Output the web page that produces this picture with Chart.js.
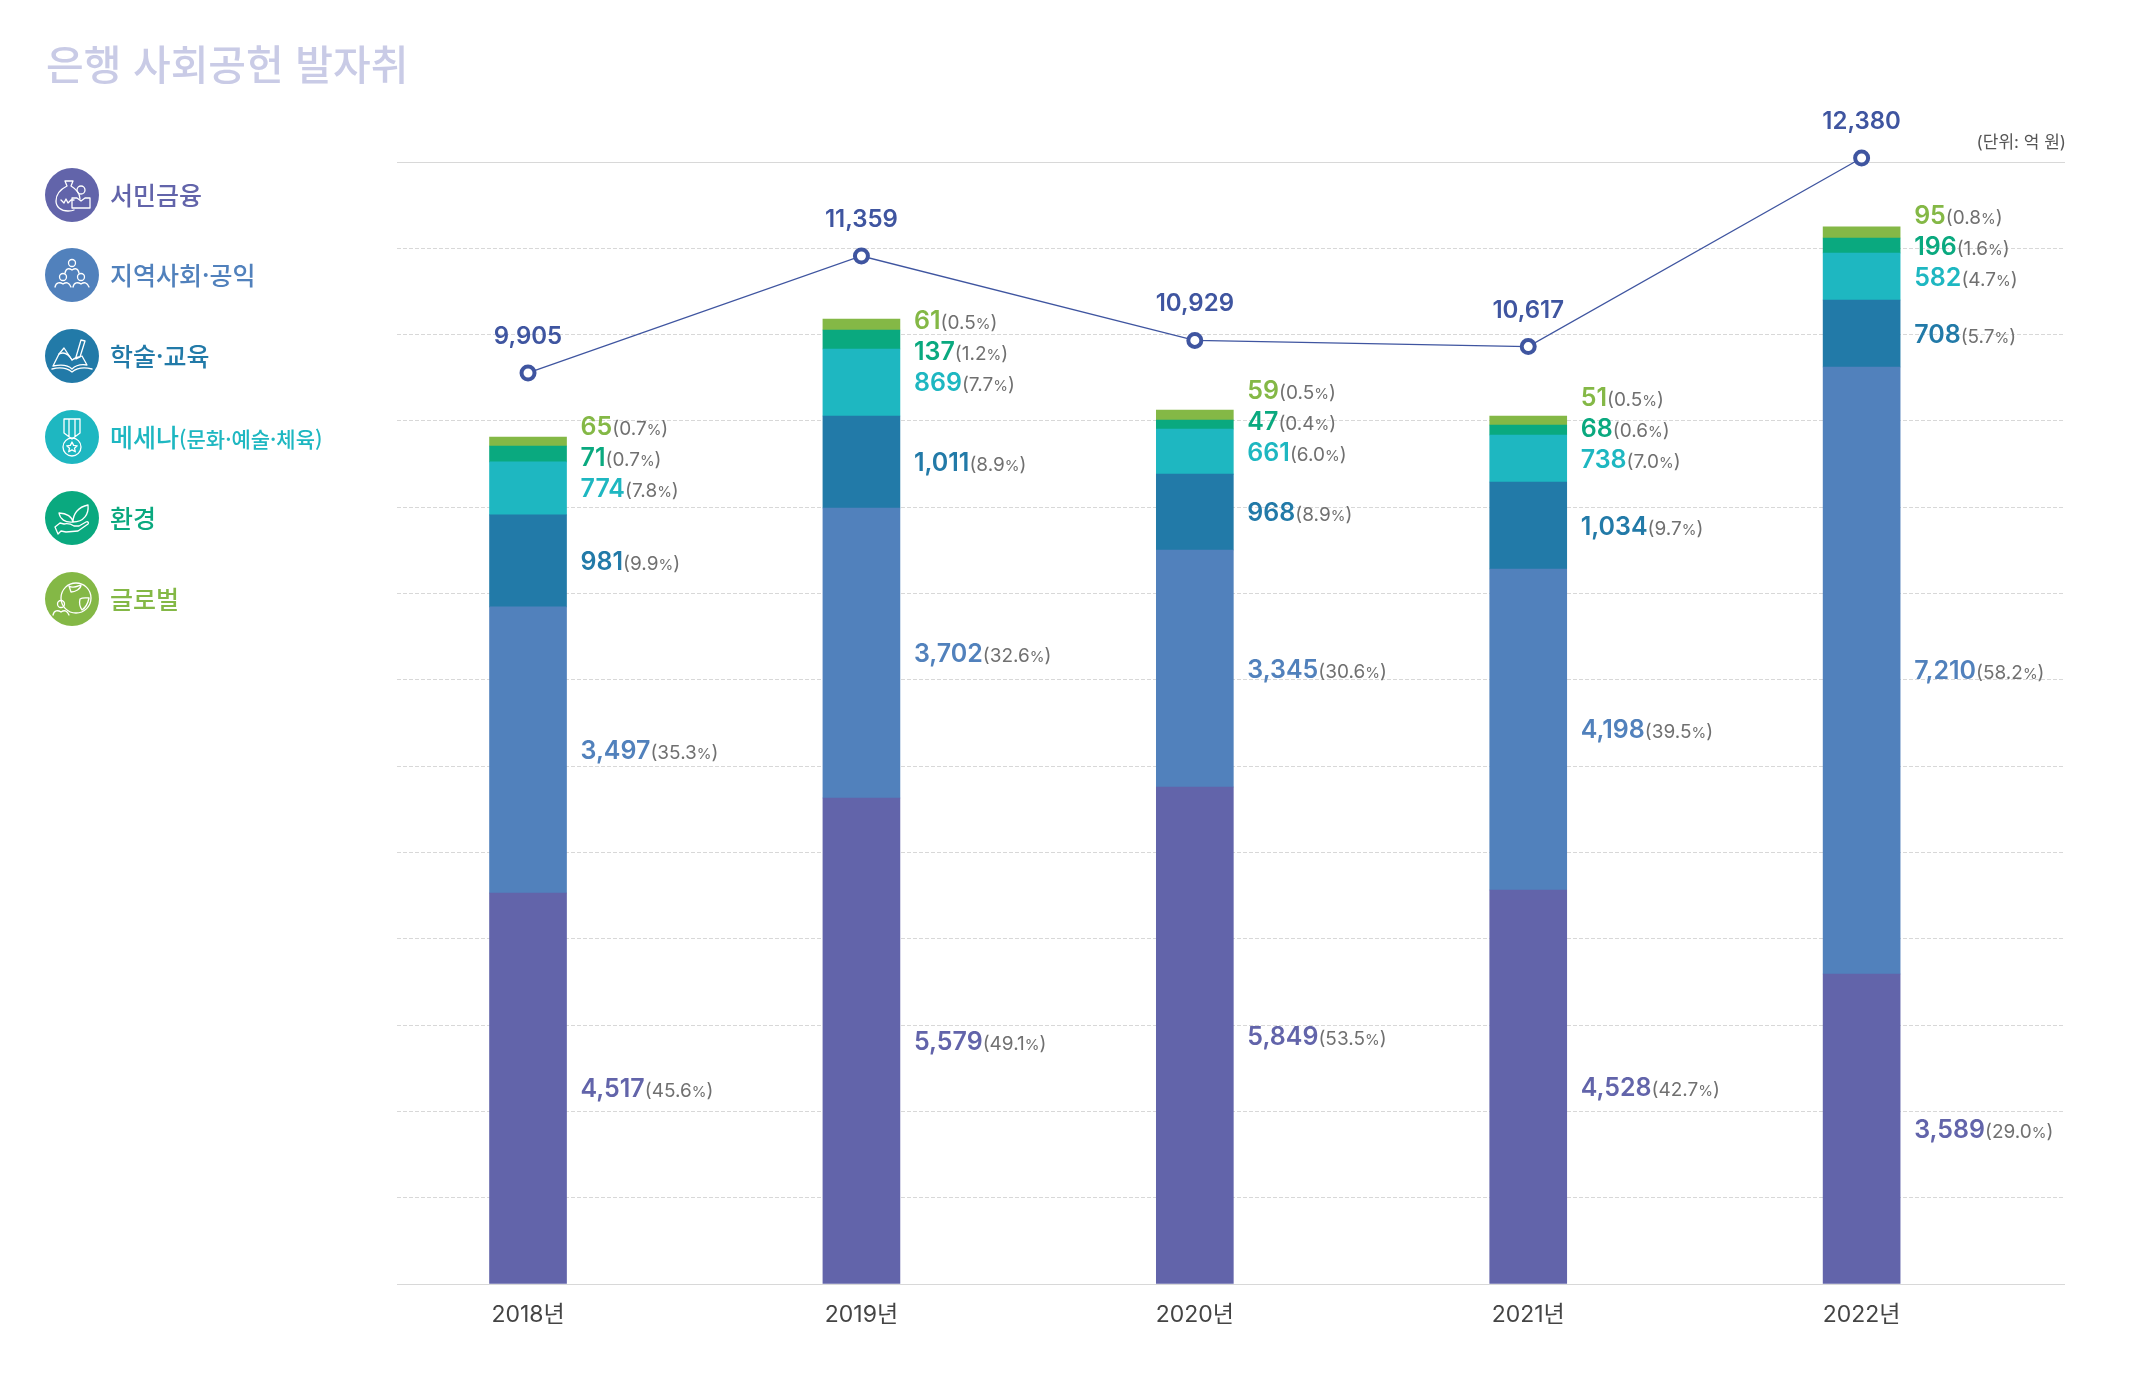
<!DOCTYPE html>
<html lang="ko">
<head>
<meta charset="utf-8">
<title>은행 사회공헌 발자취</title>
<script src="https://cdn.jsdelivr.net/npm/chart.js@4"></script>
<style>
  html, body { margin: 0; background: #fff; }
  body { width: 2146px; height: 1382px; position: relative; overflow: hidden;
         font-family: Inter, "Noto Sans CJK KR", sans-serif; }
  canvas { position: absolute; left: 0; top: 0; }
  #title { position: absolute; left: 46px; top: 34px; font-size: 41px; font-weight: 500; line-height: 56px;
           color: #c9cbe6; white-space: nowrap; font-family: "Noto Sans CJK KR", sans-serif; }
  #unit { position: absolute; right: 80px; top: 130px; font-size: 17px; line-height: 24px; color: #555; white-space: nowrap; }
  .item { position: absolute; left: 45px; height: 54px; display: flex; align-items: center; white-space: nowrap;
          font-size: 25px; font-weight: 500; font-family: "Noto Sans CJK KR", sans-serif; }
  .item svg { width: 54px; height: 54px; margin-right: 11px; flex: none; }
  .item span { position: relative; top: -1px; }
  .item small { font-size: 21px; font-weight: 500; }
</style>
</head>
<body>
<canvas id="bankChart" width="2146" height="1382"></canvas>
<div id="title">은행 사회공헌 발자취</div>
<div id="unit">(단위: 억 원)</div>
<div id="legend"></div>
<script>
var years = [2018, 2019, 2020, 2021, 2022];

var seriesNames = ["서민금융", "지역사회·공익", "학술·교육", "메세나", "환경", "글로벌"];
var seriesNote = ["", "", "", "(문화·예술·체육)", "", ""];
var seriesColors = ["#6264aa", "#5181bc", "#227aa8", "#1eb7c1", "#0aa97f", "#84b846"];

// amounts as printed next to the bars
var finance = [4517, 5579, 5849, 4528, 3589];
var community = [3497, 3702, 3345, 4198, 7210];
var education = [981, 1011, 968, 1034, 708];
var mecenat = [774, 869, 661, 738, 582];
var environment = [71, 137, 47, 68, 196];
var globalAid = [65, 61, 59, 51, 95];

var financePct = [45.6, 49.1, 53.5, 42.7, 29.0];
var communityPct = [35.3, 32.6, 30.6, 39.5, 58.2];
var educationPct = [9.9, 8.9, 8.9, 9.7, 5.7];
var mecenatPct = [7.8, 7.7, 6.0, 7.0, 4.7];
var environmentPct = [0.7, 1.2, 0.4, 0.6, 1.6];
var globalAidPct = [0.7, 0.5, 0.5, 0.5, 0.8];

// the drawn bars are not to scale with the printed amounts, these are the heights read off the picture
var financeDrawn = [4576, 5687, 5816, 4611, 3628];
var communityDrawn = [3347, 3394, 2773, 3756, 7103];
var educationDrawn = [1077, 1077, 889, 1018, 784];
var mecenatDrawn = [620, 784, 527, 550, 550];
var environmentDrawn = [187, 222, 105, 117, 176];
var globalAidDrawn = [105, 129, 117, 105, 129];

// printed totals
var totals = [9905, 11359, 10929, 10617, 12380];
// same for the line, marker heights read against the bars' axis
var totalMarkerLevels = [10661, 12030, 11042, 10970, 13177];

var seriesValues = [finance, community, education, mecenat, environment, globalAid];
var seriesPct = [financePct, communityPct, educationPct, mecenatPct, environmentPct, globalAidPct];
var seriesDrawn = [financeDrawn, communityDrawn, educationDrawn, mecenatDrawn, environmentDrawn, globalAidDrawn];

var lineColor = "#3f55a0";
var labelFont = 'Inter, "Noto Sans CJK KR", sans-serif';
var topLabelGap = 31;

var icons = [
  '<path d="M20 13h8l-2 5c5 3 9 8 9 13M20 13l2 5c-6 3-11 8-11 15 0 6 5 10 12 10 2 0 4 0 6-1"/><path d="M16 32l3 3 2-4 2 4 3-3 3 0"/><circle cx="36" cy="22" r="4"/><path d="M27 40V30h5l4 3 4-3h5v10z"/>',
  '<circle cx="27" cy="15" r="3.5"/><path d="M20 25c1-5 4-5 7-3 3-2 6-2 7 3"/><circle cx="18" cy="29" r="3.5"/><circle cx="36" cy="29" r="3.5"/><path d="M10 39c1-5 5-5 8-3 3-2 6-2 8 3M28 39c1-5 5-5 8-3 3-2 6-2 8 3"/>',
  '<path d="M8 37l6-12c4-2 9-1 13 6 3-2 6-3 7-3l3-1 5 9c-6-1-11 0-15 4-4-4-10-5-19-3z"/><path d="M7 40c8-2 15-1 20 3 5-4 12-5 20-3"/><path d="M14 25l5-6 8 12"/><path d="M31 28l5-17 4 1-5 16-4 2z"/>',
  '<path d="M19 9h16v14l-8 6-8-6zM24 9v17M30 9v17"/><circle cx="27" cy="37" r="9"/><path d="M27 32l1.6 3.4 3.6.4-2.7 2.4.8 3.6-3.3-1.9-3.3 1.9.8-3.6-2.7-2.4 3.6-.4z"/>',
  '<path d="M10 36l5-4 4 1c4-1 7 0 10 2h5l7-4c2-1 3 1 2 2l-10 7-12 1-5-1-3 3z"/><path d="M28 31c0-8 5-15 15-17 1 9-4 17-15 17zM28 31c-1-5-6-9-14-9 1 6 6 10 14 9z"/>',
  '<circle cx="31" cy="26" r="15"/><path d="M24 14c4 3 9 0 12-1 0 4-6 7-10 7zM35 27c3-2 7-1 9-1-1 5-4 10-7 12-2-3-3-7-2-11z"/><circle cx="16" cy="32" r="3.5"/><path d="M8 43c1-5 5-5 8-3 3-2 6-2 8 3"/>'
];

var legendBox = document.getElementById("legend");
seriesNames.forEach(function(name, i) {
  var item = document.createElement("div");
  item.className = "item";
  item.style.top = (167.5 + i * 80.8) + "px";
  item.style.color = seriesColors[i];
  item.innerHTML = '<svg viewBox="0 0 54 54"><circle cx="27" cy="27" r="27" fill="' + seriesColors[i] + '"/>' +
    '<g fill="none" stroke="#fff" stroke-width="1.3" stroke-linejoin="round" stroke-linecap="round">' + icons[i] + '</g></svg>' +
    '<span>' + name + (seriesNote[i] ? '<small>' + seriesNote[i] + '</small>' : '') + '</span>';
  legendBox.appendChild(item);
});

function drawSegmentLabel(ctx, x, y, value, pct, color) {
  var parts = [
    { text: value.toLocaleString("en-US"), font: "600 25px " + labelFont, color: color },
    { text: "(" + pct.toFixed(1), font: "400 19px " + labelFont, color: "#707070" },
    { text: "%", font: "400 15px " + labelFont, color: "#707070" },
    { text: ")", font: "400 19px " + labelFont, color: "#707070" }
  ];
  parts.forEach(function(p) {
    ctx.font = p.font;
    ctx.fillStyle = p.color;
    ctx.fillText(p.text, x, y + 9);
    x += ctx.measureText(p.text).width;
  });
}

var barLabels = {
  id: "barLabels",
  afterDatasetsDraw: function(chart) {
    var ctx = chart.ctx;
    var xScale = chart.scales.x;
    var yScale = chart.scales.y;
    ctx.save();
    ctx.textAlign = "left";
    ctx.textBaseline = "alphabetic";
    years.forEach(function(year, i) {
      var sum = 0;
      var lastY = 0;
      var x = xScale.getPixelForValue(year) + 38.5 + 14;
      seriesValues.forEach(function(values, s) {
        var center = yScale.getPixelForValue(sum + seriesDrawn[s][i] / 2);
        sum += seriesDrawn[s][i];
        // the two thin top segments stack their labels above the 메세나 label
        var y = s >= 4 ? lastY - topLabelGap : center;
        lastY = y;
        drawSegmentLabel(ctx, x, y, values[i], seriesPct[s][i], seriesColors[s]);
      });
      var marker = chart.getDatasetMeta(seriesValues.length).data[i];
      ctx.font = "600 24px " + labelFont;
      ctx.fillStyle = lineColor;
      ctx.textAlign = "center";
      ctx.fillText(totals[i].toLocaleString("en-US"), marker.x, marker.y - 29);
      ctx.textAlign = "left";
    });
    ctx.restore();
  }
};

var datasets = seriesNames.map(function(name, i) {
  return {
    type: "bar",
    label: name,
    data: seriesDrawn[i],
    backgroundColor: seriesColors[i],
    borderWidth: 0,
    stack: "total",
    barThickness: 77,
    order: 2
  };
});
datasets.push({
  type: "line",
  label: "합계",
  data: totalMarkerLevels,
  borderColor: lineColor,
  borderWidth: 1.3,
  pointRadius: 6.5,
  pointBorderWidth: 4,
  pointBackgroundColor: "#fff",
  pointBorderColor: lineColor,
  tension: 0,
  clip: false,
  order: 1
});

new Chart(document.getElementById("bankChart").getContext("2d"), {
  data: { labels: years, datasets: datasets },
  plugins: [barLabels],
  options: {
    responsive: false,
    animation: false,
    devicePixelRatio: 1,
    layout: { padding: { left: 397, right: 81, top: 162, bottom: 0 } },
    plugins: { legend: { display: false }, title: { display: false }, tooltip: { enabled: false } },
    scales: {
      x: {
        type: "linear",
        bounds: "data",
        offset: false,
        min: 2017.607,
        max: 2022.61,
        afterBuildTicks: function(scale) {
          scale.ticks = years.map(function(y) { return { value: y }; });
        },
        afterFit: function(scale) { scale.height = 98; },
        grid: { display: false },
        border: { display: false },
        ticks: {
          autoSkip: false,
          maxRotation: 0,
          padding: 9,
          color: "#444",
          font: { family: labelFont, size: 23 },
          callback: function(v) { return v + "년"; }
        }
      },
      y: {
        min: 0,
        max: 13130,
        afterFit: function(scale) { scale.width = 0; },
        ticks: { display: false, stepSize: 1010 },
        grid: {
          drawTicks: false,
          lineWidth: 1,
          color: "#d8d8d8"
        },
        border: {
          display: false,
          dash: function(c) {
            return (c.index === 0 || c.tick.value >= 13130) ? [] : [4, 2];
          }
        }
      }
    }
  }
});
</script>
</body>
</html>
